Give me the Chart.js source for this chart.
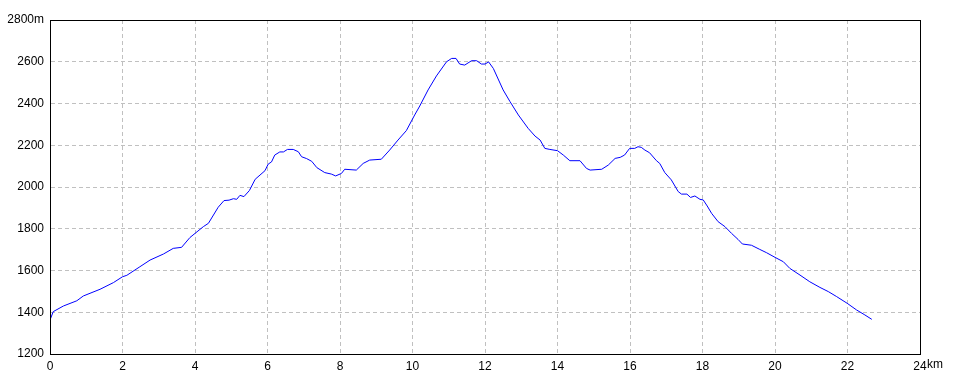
<!DOCTYPE html>
<html>
<head>
<meta charset="utf-8">
<script src="https://cdn.jsdelivr.net/npm/chart.js@4/dist/chart.umd.min.js"></script>
<style>
  html, body { margin: 0; padding: 0; background: #fff; }
  canvas { display: block; }
</style>
</head>
<body>
<canvas id="perfil" width="960" height="384"></canvas>
<script>
// distance (km) and elevation (m)
const km = [0, 0.09, 0.37, 0.74, 0.92, 1.38, 1.75, 2.0, 2.12, 2.48, 2.76, 3.13, 3.4, 3.63, 3.86,
  4.23, 4.37, 4.64, 4.8, 4.94, 5.06, 5.15, 5.24, 5.35, 5.5, 5.66, 5.93, 6.02, 6.11, 6.2, 6.34,
  6.44, 6.55, 6.71, 6.85, 6.94, 7.08, 7.22, 7.36, 7.58, 7.76, 7.88, 8.04, 8.13, 8.45, 8.64,
  8.82, 9.14, 9.37, 9.6, 9.83, 10.06, 10.2, 10.43, 10.66, 10.94, 11.08, 11.2, 11.3, 11.44,
  11.63, 11.77, 11.9, 12.0, 12.1, 12.23, 12.5, 12.69, 12.92, 13.19, 13.38, 13.52, 13.65,
  13.79, 14.0, 14.16, 14.34, 14.62, 14.8, 14.9, 15.22, 15.4, 15.59, 15.73, 15.85, 15.99,
  16.13, 16.22, 16.31, 16.41, 16.54, 16.73, 16.82, 16.96, 17.14, 17.33, 17.42, 17.57, 17.67,
  17.79, 17.93, 18.02, 18.13, 18.25, 18.43, 18.62, 18.8, 18.98, 19.1, 19.35, 19.58, 19.77,
  20.0, 20.23, 20.41, 20.69, 20.96, 21.24, 21.47, 21.7, 21.99, 22.25, 22.48, 22.67];
const elevation = [1363, 1403, 1430, 1455, 1478, 1510, 1542, 1570, 1577, 1618, 1650, 1679, 1706, 1711, 1758,
  1810, 1826, 1903, 1935, 1937, 1944, 1941, 1960, 1954, 1983, 2037, 2078, 2110, 2120, 2153, 2168,
  2168, 2180, 2180, 2169, 2145, 2136, 2123, 2093, 2069, 2062, 2053, 2065, 2085, 2081, 2113,
  2129, 2133, 2177, 2225, 2270, 2345, 2388, 2465, 2532, 2600, 2616, 2616, 2589, 2584,
  2605, 2605, 2589, 2589, 2599, 2568, 2465, 2409, 2345, 2281, 2244, 2225, 2185,
  2180, 2174, 2153, 2126, 2126, 2089, 2081, 2085, 2105, 2137, 2142, 2153, 2185,
  2185, 2193, 2190, 2177, 2164, 2126, 2113, 2069, 2034, 1978, 1966, 1966, 1950,
  1957, 1941, 1938, 1909, 1874, 1834, 1810, 1778, 1749, 1727, 1721, 1701, 1685,
  1663, 1642, 1610, 1578, 1546, 1519, 1499, 1475, 1443, 1411, 1387, 1366];

const xMin = 0, xMax = 24, xStep = 2;
const yMin = 1200, yMax = 2800, yStep = 200;
const xUnit = 'km', yUnit = 'm';

const pontos = km.map((d, i) => ({ x: d, y: elevation[i] }));

const fonte = { family: '"Liberation Sans", Arial, sans-serif', size: 12 };

// frame around the plot + unit after the last distance tick
const moldura = {
  id: 'moldura',
  afterDraw(chart) {
    const ctx = chart.ctx;
    const a = chart.chartArea;
    ctx.save();
    ctx.setLineDash([]);
    ctx.strokeStyle = '#000';
    ctx.lineWidth = 1;
    ctx.strokeRect(Math.round(a.left) + 0.5, Math.round(a.top) + 0.5,
      Math.round(a.right - a.left), Math.round(a.bottom - a.top));
    const sx = chart.scales.x;
    ctx.fillStyle = '#000';
    ctx.font = '12px ' + fonte.family;
    ctx.textBaseline = 'middle';
    ctx.textAlign = 'left';
    ctx.fillText(xUnit, sx.getPixelForValue(xMax) + 7, a.bottom + 11);
    ctx.restore();
  }
};

new Chart(document.getElementById('perfil'), {
  type: 'scatter',
  data: {
    datasets: [{
      data: pontos,
      showLine: true,
      borderColor: '#0000ff',
      borderWidth: 1,
      pointRadius: 0,
      tension: 0
    }]
  },
  options: {
    responsive: false,
    animation: false,
    events: [],
    layout: { padding: { top: 20, right: 40, left: 0, bottom: 0 } },
    plugins: { legend: { display: false }, tooltip: { enabled: false } },
    scales: {
      x: {
        type: 'linear',
        min: xMin, max: xMax,
        afterFit: s => { s.height = 30; },
        grid: { color: '#c0c0c0', drawTicks: false },
        border: { display: true, color: '#000', dash: [4, 3] },
        ticks: { stepSize: xStep, color: '#000', font: fonte, padding: 5, maxRotation: 0 }
      },
      y: {
        min: yMin, max: yMax,
        afterFit: s => { s.width = 50; },
        grid: { color: '#c0c0c0', drawTicks: false },
        border: { display: true, color: '#000', dash: [4, 3] },
        ticks: {
          stepSize: yStep, color: '#000', font: fonte, padding: 6,
          callback: v => v === yMax ? v + yUnit : String(v)
        }
      }
    }
  },
  plugins: [moldura]
});
</script>
</body>
</html>
